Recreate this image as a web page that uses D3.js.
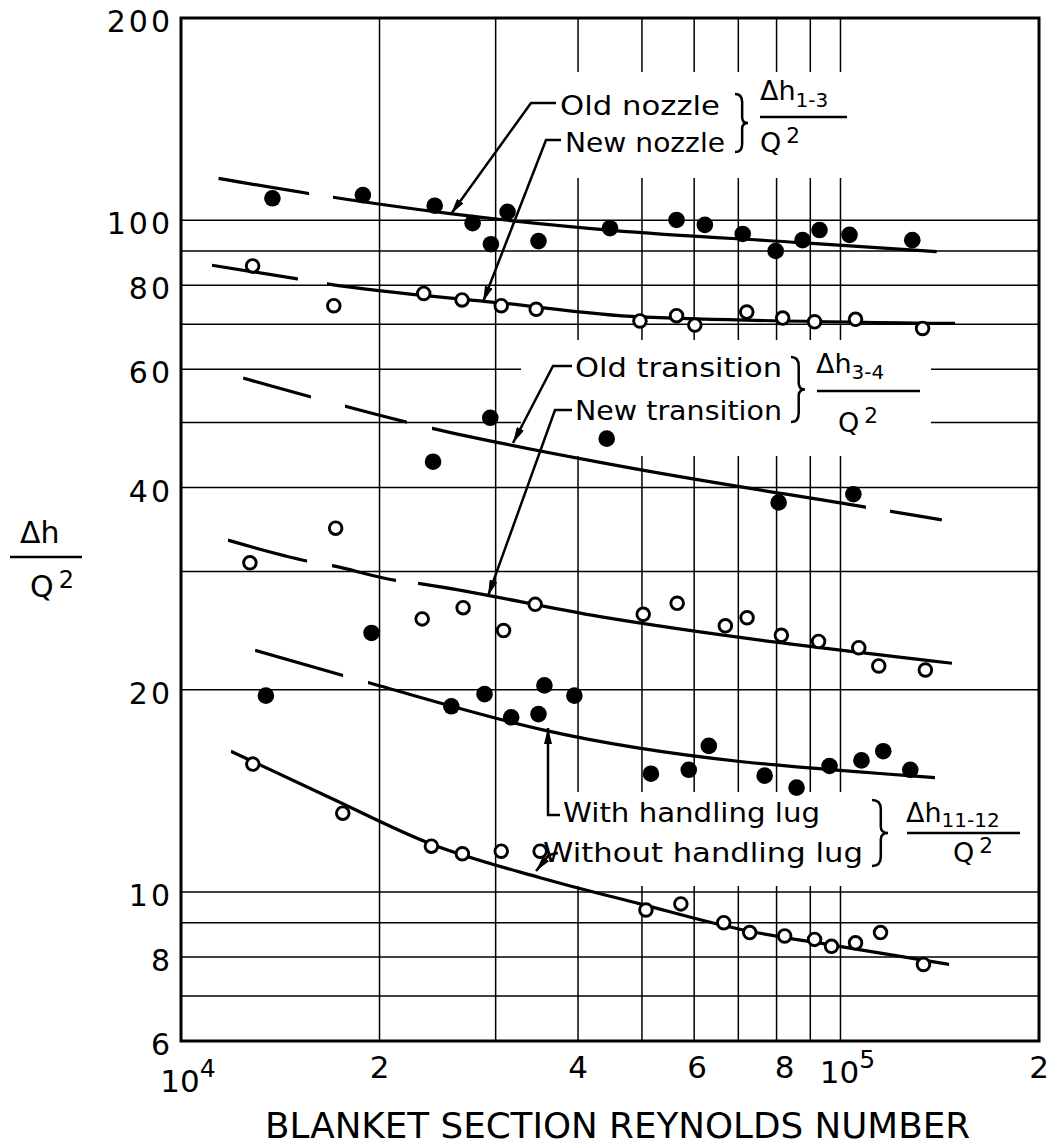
<!DOCTYPE html>
<html><head><meta charset="utf-8">
<script src="https://cdn.jsdelivr.net/npm/d3@7"></script>
<style>body{margin:0;background:#fff}</style>
</head><body><svg id="c" width="1053" height="1148"></svg>
<script>
// ---------- data ----------
const xTicks = [10000, 20000, 40000, 60000, 80000, 100000, 200000];
const xTickLabels = ["10|4", "2", "4", "6", "8", "10|5", "2"];
const yTicks = [6, 8, 10, 20, 40, 60, 80, 100, 200];
const yTickLabels = ["6", "8", "10", "20", "40", "60", "80", "100", "200"];
const xGrid = [20000, 30000, 40000, 50000, 60000, 70000, 80000, 90000, 100000];
const yGrid = [7, 8, 9, 10, 20, 30, 40, 50, 60, 70, 80, 90, 100];

const oldNozzle = [[13760,107.8],[18870,109.0],[24250,105.1],[27680,99.0],[29510,92.1],[31270,102.9],[34840,93.1],[44720,97.3],[56420,100.1],[62280,98.4],[71080,95.4],[79750,90.0],[87610,93.4],[92950,96.7],[103200,95.1],[128500,93.4]];
const newNozzle = [[12840,85.5],[17050,74.6],[23340,77.8],[26680,76.1],[30590,74.6],[34560,73.7],[49650,70.8],[56420,72.1],[60140,69.8],[72090,73.0],[81720,71.5],[91350,70.6],[105400,71.2],[133200,69.0]];
const oldTransition = [[24110,43.7],[29440,50.8],[44210,47.3],[80580,38.0],[104600,39.1]];
const newTransition = [[12720,30.9],[17160,34.8],[23210,25.5],[26780,26.5],[30840,24.5],[34440,26.8],[50220,25.9],[56540,26.9],[66900,24.9],[72170,25.6],[81350,24.1],[92630,23.6],[106600,23.1],[114300,21.7],[134500,21.4]];
const withLug = [[13450,19.6],[19450,24.3],[25700,18.9],[28860,19.7],[31670,18.2],[34840,18.4],[35570,20.3],[39490,19.6],[51590,15.0],[58880,15.2],[63150,16.5],[76740,14.9],[85780,14.3],[96250,15.4],[107600,15.7],[116100,16.2],[127600,15.2]];
const withoutLug = [[12850,15.5],[17590,13.1],[23970,11.7],[26710,11.4],[30590,11.5],[35040,11.5],[50700,9.4],[57270,9.6],[66530,9.0],[72840,8.7],[82290,8.6],[91350,8.5],[96920,8.3],[105400,8.4],[115000,8.7],[133600,7.8]];

// fitted curves
const oldNozzleFit = [[11400,115.4],[15700,109.5],[25600,102.3],[45000,96.6],[87000,92.6],[140000,89.8]];
const newNozzleFit = [[11140,85.7],[15100,81.7],[16670,80.4],[30590,75.3],[49650,71.8],[149200,70.2]];
const oldTransitionFit = [[12420,58.2],[24030,49.0],[45510,43.2],[109100,37.4],[142500,35.8]];
const newTransitionFit = [[11780,33.4],[15530,31.1],[16940,30.6],[21180,29.1],[22880,28.8],[43190,25.7],[147600,21.9]];
const withLugFit = [[12950,22.9],[17610,21.0],[19210,20.5],[35660,17.4],[139100,14.8]];
const withoutLugFit = [[11900,16.2],[16860,13.8],[23880,11.8],[35040,10.5],[49650,9.6],[70350,8.8],[99650,8.3],[146200,7.8]];

// visible (dash) intervals of each fitted curve, in Reynolds number
const oldNozzleDash = [[11380,15640],[17000,140000]];
const newNozzleDash = [[11140,15040],[16650,149200]];
const oldTransitionDash = [[12420,15740],[17730,22010],[24020,109300],[118900,142500]];
const newTransitionDash = [[11780,15530],[16940,21180],[22880,147600]];
const withLugDash = [[12950,17610],[19210,139100]];
const withoutLugDash = [[11900,146200]];

// ---------- layout ----------
const W = 1053, H = 1148;
const L = 181, R = 1039, T = 18, B = 1041;
const FONT = "'DejaVu Sans', sans-serif";
const svg = d3.select("#c");
const x = d3.scaleLog().domain([1e4, 2e5]).range([L, R]);
const y = d3.scaleLog().domain([6, 200]).range([B, T]);

// grid
const g = svg.append("g");
g.selectAll(".vg").data(xGrid).join("line")
  .attr("x1", d => x(d)).attr("x2", d => x(d)).attr("y1", T).attr("y2", B)
  .attr("stroke", "#000").attr("stroke-width", 1.5);
g.selectAll(".hg").data(yGrid).join("line")
  .attr("x1", L).attr("x2", R).attr("y1", d => y(d)).attr("y2", d => y(d))
  .attr("stroke", "#000").attr("stroke-width", 1.5);

// gaps in the grid where lettering sits
const masks = [[515, 72, 856, 178], [521, 340, 931, 456], [555, 792, 880, 886]];
svg.append("g").selectAll("rect").data(masks).join("rect")
  .attr("x", d => d[0]).attr("y", d => d[1]).attr("width", d => d[2]-d[0]).attr("height", d => d[3]-d[1])
  .attr("fill", "#fff");

// border
svg.append("rect").attr("x", L).attr("y", T).attr("width", R-L).attr("height", B-T)
  .attr("fill", "none").attr("stroke", "#000").attr("stroke-width", 3);

// fitted curves
const line = d3.line().x(d => x(d[0])).y(d => y(d[1])).curve(d3.curveMonotoneX);
const defs = svg.append("defs");
const fits = [
  [oldNozzleFit, oldNozzleDash], [newNozzleFit, newNozzleDash],
  [oldTransitionFit, oldTransitionDash], [newTransitionFit, newTransitionDash],
  [withLugFit, withLugDash], [withoutLugFit, withoutLugDash]
];
fits.forEach(([pts, dashes], i) => {
  const cp = defs.append("clipPath").attr("id", "cp" + i);
  dashes.forEach(([a, b]) => cp.append("rect").attr("x", x(a)).attr("y", 0).attr("width", x(b) - x(a)).attr("height", H));
  svg.append("path").datum(pts).attr("d", line).attr("fill", "none")
    .attr("stroke", "#000").attr("stroke-width", 3.2).attr("clip-path", `url(#cp${i})`);
});

// points
function filled(data) {
  svg.append("g").selectAll("circle").data(data).join("circle")
    .attr("cx", d => x(d[0])).attr("cy", d => y(d[1])).attr("r", 8.3).attr("fill", "#000");
}
function open(data) {
  svg.append("g").selectAll("circle").data(data).join("circle")
    .attr("cx", d => x(d[0])).attr("cy", d => y(d[1])).attr("r", 6.3)
    .attr("fill", "#fff").attr("stroke", "#000").attr("stroke-width", 2.9);
}
filled(oldNozzle); open(newNozzle); filled(oldTransition); open(newTransition); filled(withLug); open(withoutLug);

// y tick labels
svg.append("g").selectAll("text").data(yTicks).join("text")
  .attr("x", 173).attr("y", d => y(d) + 14).attr("text-anchor", "end")
  .attr("font-family", FONT).attr("font-size", 30).attr("letter-spacing", 3)
  .text((d, i) => yTickLabels[i]);

// x tick labels
const xt = svg.append("g").selectAll("text").data(xTicks).join("text")
  .attr("x", d => x(d) + (d === 8e4 ? 8 : d === 6e4 ? 3 : 0)).attr("y", 1078).attr("text-anchor", "middle")
  .attr("font-family", FONT).attr("font-size", 31);
xt.each(function(d, i) {
  const parts = xTickLabels[i].split("|");
  const t = d3.select(this);
  if (parts.length === 1) { t.text(parts[0]); return; }
  t.attr("y", d === 1e4 ? 1092 : 1083).attr("x", x(d) + 7);
  t.append("tspan").text(parts[0]);
  t.append("tspan").attr("dy", -15).attr("font-size", 25).text(parts[1]);
});

// x title
svg.append("text").attr("x", 265).attr("y", 1138).attr("font-family", FONT).attr("font-size", 36)
  .attr("textLength", 705).attr("lengthAdjust", "spacingAndGlyphs").text("BLANKET SECTION REYNOLDS NUMBER");

// fractions
function frac(xNum, base, num, sub, subDy, barX0, barX1, barY, qX, qBase, size) {
  const t = svg.append("text").attr("x", xNum).attr("y", base).attr("font-family", FONT).attr("font-size", size);
  t.append("tspan").text(num);
  if (sub) t.append("tspan").attr("dy", subDy).attr("font-size", size * 0.74).text(sub);
  svg.append("line").attr("x1", barX0).attr("x2", barX1).attr("y1", barY).attr("y2", barY)
    .attr("stroke", "#000").attr("stroke-width", 2.5);
  const q = svg.append("text").attr("x", qX).attr("y", qBase).attr("font-family", FONT).attr("font-size", size);
  q.append("tspan").text("Q");
  q.append("tspan").attr("dx", 5).attr("dy", -9).attr("font-size", size * 0.8).text("2");
}
frac(20, 543, "Δh", null, 0, 10, 82, 557, 30, 597, 30);
frac(760, 100, "Δh", "1-3", 7, 760, 847, 117, 760, 152, 27);
frac(816, 373, "Δh", "3-4", 6, 817, 920, 391, 838, 432, 27);
frac(906, 822, "Δh", "11-12", 5, 907, 1020, 833, 953, 862, 27);

// annotation labels
function label(txt, x0, base, w, size) {
  svg.append("text").attr("x", x0).attr("y", base).attr("font-family", FONT).attr("font-size", size)
    .attr("textLength", w).attr("lengthAdjust", "spacingAndGlyphs").text(txt);
}
label("Old nozzle", 560, 115, 160, 27);
label("New nozzle", 565, 152, 160, 27);
label("Old transition", 575, 377, 207, 27);
label("New transition", 575, 420, 207, 27);
label("With handling lug", 563, 822, 257, 27);
label("Without handling lug", 543, 862, 320, 27);

// braces
function brace(x0, y0, y1, w) {
  const h = y1 - y0, m = (y0 + y1) / 2, xs = x0 + w * 0.55;
  return `M${x0},${y0} Q${xs},${y0} ${xs},${y0 + h * 0.14} L${xs},${m - h * 0.1} Q${xs},${m} ${x0 + w},${m} Q${xs},${m} ${xs},${m + h * 0.1} L${xs},${y1 - h * 0.14} Q${xs},${y1} ${x0},${y1}`;
}
[[735, 94, 152, 13], [791, 357, 422, 14], [872, 800, 866, 16]].forEach(b =>
  svg.append("path").attr("d", brace(...b)).attr("fill", "none").attr("stroke", "#000").attr("stroke-width", 2.5));

// leaders with arrows
defs.append("marker").attr("id", "arr").attr("viewBox", "0 0 16 8").attr("refX", 16).attr("refY", 4)
  .attr("markerWidth", 16).attr("markerHeight", 8).attr("markerUnits", "userSpaceOnUse").attr("orient", "auto")
  .append("path").attr("d", "M0,0 L16,4 L0,8 Z").attr("fill", "#000");
const leaders = [
  "M556,103 L531,103 L451,214",
  "M561,140 L546,140 L483,302",
  "M572,366 L553,366 L513,443",
  "M572,410 L555,410 L488,596",
  "M560,815 L548,815 L548,728",
  "M558,853 L549,855 L536,871"
];
svg.append("g").selectAll("path").data(leaders).join("path").attr("d", d => d)
  .attr("fill", "none").attr("stroke", "#000").attr("stroke-width", 2.5).attr("marker-end", "url(#arr)");
</script></body></html>
